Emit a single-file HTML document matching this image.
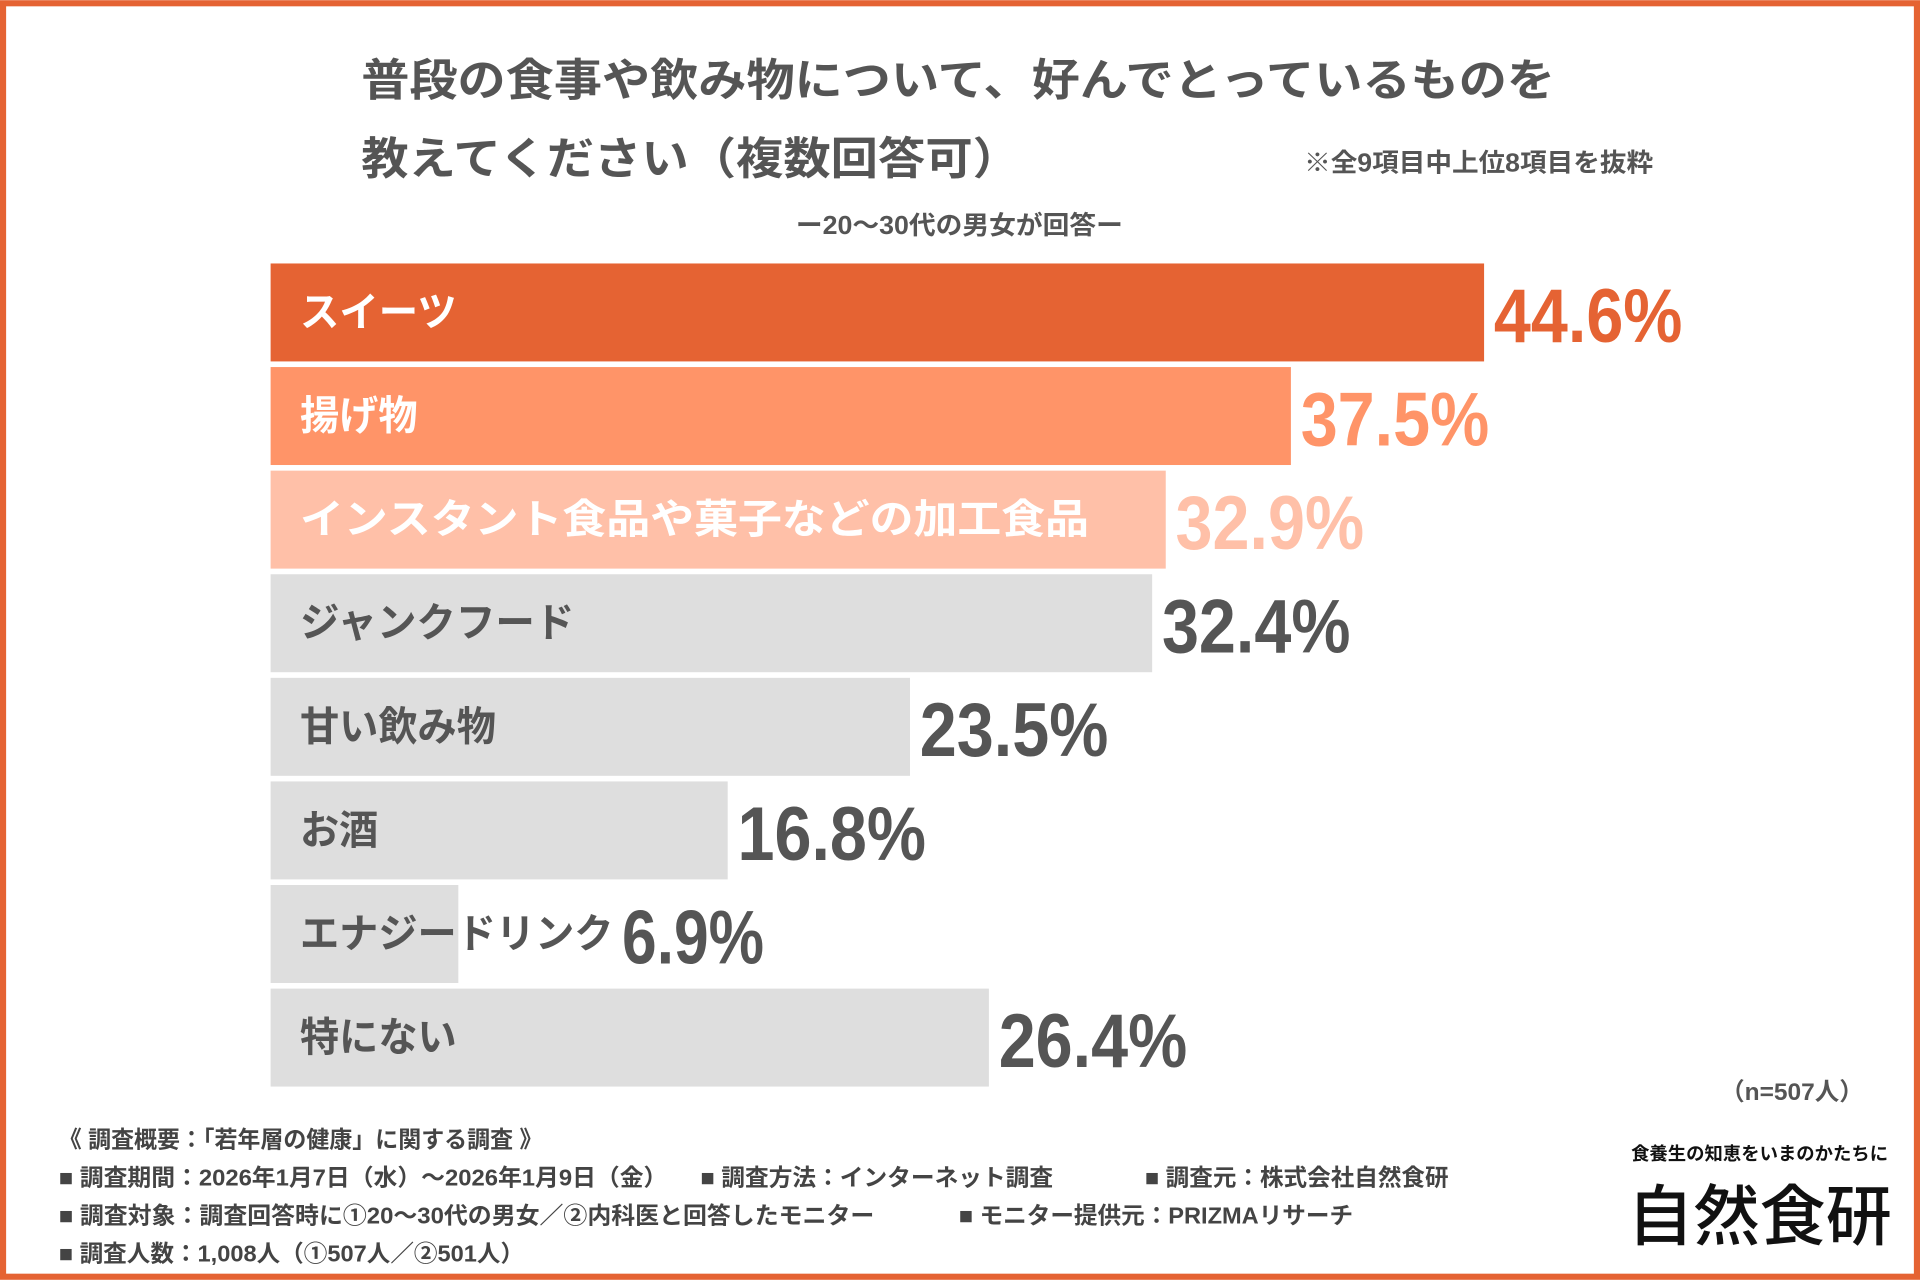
<!DOCTYPE html>
<html><head><meta charset="utf-8"><style>
html,body{margin:0;padding:0;background:#fff}
svg{display:block}
text{font-family:"Liberation Sans","Noto Sans CJK JP",sans-serif;font-weight:bold}
</style></head><body>
<svg id="chart" width="1920" height="1280" viewBox="0 0 1568 1045" xmlns="http://www.w3.org/2000/svg">
<rect x="2.5" y="2.5" width="1563" height="1040" fill="#fff" stroke="#e56333" stroke-width="5"/>
<text x="295" y="78" font-size="36" fill="#555" textLength="975" lengthAdjust="spacingAndGlyphs">普段の食事や飲み物について、好んでとっているものを</text>
<text x="295" y="142" font-size="36" fill="#555" textLength="538" lengthAdjust="spacingAndGlyphs">教えてください（複数回答可）</text>
<text x="1065" y="140" font-size="21" fill="#555" textLength="285" lengthAdjust="spacingAndGlyphs">※全9項目中上位8項目を抜粋</text>
<text x="650" y="191" font-size="21" fill="#555" textLength="267" lengthAdjust="spacingAndGlyphs">ー20〜30代の男女が回答ー</text>
<g id="bars"></g>
<text x="1522" y="898" font-size="20" fill="#555" text-anchor="end">（n=507人）</text>
<g font-size="19" fill="#444">
<text x="48" y="937" textLength="395" lengthAdjust="spacingAndGlyphs">《 調査概要：「若年層の健康」に関する調査 》</text>
<text x="48" y="968" textLength="497" lengthAdjust="spacingAndGlyphs">■ 調査期間：2026年1月7日（水）〜2026年1月9日（金）</text>
<text x="572" y="968" textLength="288" lengthAdjust="spacingAndGlyphs">■ 調査方法：インターネット調査</text>
<text x="935" y="968" textLength="248" lengthAdjust="spacingAndGlyphs">■ 調査元：株式会社自然食研</text>
<text x="48" y="999" textLength="666" lengthAdjust="spacingAndGlyphs">■ 調査対象：調査回答時に①20〜30代の男女／②内科医と回答したモニター</text>
<text x="783" y="999" textLength="322" lengthAdjust="spacingAndGlyphs">■ モニター提供元：PRIZMAリサーチ</text>
<text x="48" y="1030" textLength="380" lengthAdjust="spacingAndGlyphs">■ 調査人数：1,008人（①507人／②501人）</text>
</g>
<text x="1437" y="947" font-size="15" fill="#111" text-anchor="middle">食養生の知恵をいまのかたちに</text>
<text x="1437" y="1012" font-size="54" fill="#111" text-anchor="middle" style="font-family:'Noto Sans CJK JP',sans-serif;font-weight:500">自然食研</text>
</svg>
<script>
const categories=["スイーツ","揚げ物","インスタント食品や菓子などの加工食品","ジャンクフード","甘い飲み物","お酒","エナジードリンク","特にない"];
const values=[44.6,37.5,32.9,32.4,23.5,16.8,6.9,26.4];
const valueLabels=["44.6%","37.5%","32.9%","32.4%","23.5%","16.8%","6.9%","26.4%"];
const fills=["#e56333","#ff9468","#ffc0a8","#dedede","#dedede","#dedede","#dedede","#dedede"];
const valueColors=["#e56333","#ff9468","#ffc0a8","#555","#555","#555","#555","#555"];
const labelColors=["#fff","#fff","#fff","#555","#555","#555","#555","#555"];
const NS="http://www.w3.org/2000/svg";
const x0=221, scale=991/44.6;
function xs(v){return v*scale;}
function ys(i){return 215+i*84.6;}
const g=document.getElementById('bars');
categories.forEach((c,i)=>{
  const r=document.createElementNS(NS,'rect');
  
  
  r.setAttribute('x',x0);r.setAttribute('y',ys(i));
  r.setAttribute('width',xs(values[i]));r.setAttribute('height',80);
  r.setAttribute('fill',fills[i]);g.appendChild(r);
  const t=document.createElementNS(NS,'text');
  
  
  t.setAttribute('x',245);t.setAttribute('y',ys(i)+51);
  t.setAttribute('font-size','33');t.setAttribute('fill',labelColors[i]);
  t.setAttribute('textLength', c.length*(c.length>10?35.8:32));
  t.setAttribute('lengthAdjust','spacingAndGlyphs');
  t.textContent=c;g.appendChild(t);
  const v=document.createElementNS(NS,'text');
  
  
  let vx=x0+xs(values[i])+8;
  if(i===6) vx=508;
  v.setAttribute('x',vx);v.setAttribute('y',ys(i)+64);
  v.setAttribute('font-size','62');v.setAttribute('fill',valueColors[i]);
  v.setAttribute('textLength', valueLabels[i].length===5?154:116);
  v.setAttribute('lengthAdjust','spacingAndGlyphs');
  v.textContent=valueLabels[i];g.appendChild(v);
});
</script>
</body></html>
